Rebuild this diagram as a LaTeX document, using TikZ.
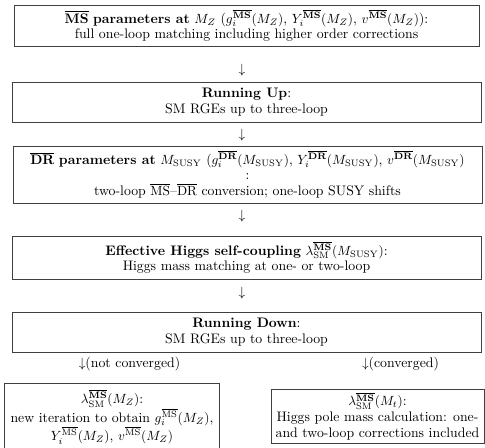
\documentclass[tikz,border=0pt]{standalone}
\usepackage{amsmath}
\newcommand{\pxu}{0.75pt}
\newcommand{\bMS}{\overline{\mathbf{MS}}}
\newcommand{\bDR}{\overline{\mathbf{DR}}}
\newcommand{\rMS}{\overline{\mathrm{MS}}}
\begin{document}
\begin{tikzpicture}[x=0.75pt,y=-0.75pt,
  box/.style={draw=black!75, line width=0.55pt, inner sep=0pt, rectangle},
  txt/.style={align=center, inner sep=0pt, font=\fontsize{10.35pt}{11.7pt}\selectfont},
  arr/.style={inner sep=0pt, font=\fontsize{10.35pt}{11.7pt}\selectfont}]
\useasboundingbox (0,0) rectangle (485,447);
\clip (0,0) rectangle (485,447);
% boxes
\node[box, minimum width=465*\pxu, minimum height=41*\pxu] (b1) at (246.5,25.5) {};
\node[box, minimum width=469*\pxu, minimum height=40*\pxu] (b2) at (246.5,102) {};
\node[box, minimum width=469*\pxu, minimum height=57*\pxu] (b3) at (247.5,174.5) {};
\node[box, minimum width=469*\pxu, minimum height=43*\pxu] (b4) at (246.5,257.5) {};
\node[box, minimum width=469*\pxu, minimum height=40*\pxu] (b5) at (246.5,332) {};
\node[box, minimum width=215*\pxu, minimum height=80*\pxu] (b6) at (111.5,423) {};
\node[box, minimum width=213*\pxu, minimum height=54*\pxu] (b7) at (377.5,416) {};
% texts
\node[txt] (t1) at (b1.center) {$\overline{\textbf{MS}}$ \textbf{parameters at} $M_Z$ ($g_i^{\bMS}(M_Z)$, $Y_i^{\bMS}(M_Z)$, $v^{\bMS}(M_Z)$):\\full one-loop matching including higher order corrections};
\node[txt] (t2) at (b2.center) {\textbf{Running Up}:\\SM RGEs up to three-loop};
\node[txt] (t3) at (b3.center) {$\overline{\textbf{DR}}$ \textbf{parameters at} $M_{\mathrm{SUSY}}$ ($g_i^{\bDR}(M_{\mathrm{SUSY}})$, $Y_i^{\bDR}(M_{\mathrm{SUSY}})$, $v^{\bDR}(M_{\mathrm{SUSY}})$\\:\\two-loop $\overline{\mathrm{MS}}$--$\overline{\mathrm{DR}}$ conversion; one-loop SUSY shifts};
\node[txt] (t4) at (b4.center) {\textbf{Effective Higgs self-coupling} $\lambda_{\mathrm{SM}}^{\bMS}(M_{\mathrm{SUSY}})$:\\Higgs mass matching at one- or two-loop};
\node[txt] (t5) at (b5.center) {\textbf{Running Down}:\\SM RGEs up to three-loop};
\node[txt] (t6) at (112,417) {$\lambda_{\mathrm{SM}}^{\bMS}(M_Z)$:\\new iteration to obtain $g_i^{\rMS}(M_Z)$,\\$Y_i^{\rMS}(M_Z)$, $v^{\rMS}(M_Z)$};
\node[txt] (t7) at (b7.center) {$\lambda_{\mathrm{SM}}^{\bMS}(M_t)$:\\Higgs pole mass calculation: one-\\and two-loop corrections included};
% arrows (glyphs)
\node[arr] (a1) at (242,70) {$\downarrow$};
\node[arr] (a2) at (242,135) {$\downarrow$};
\node[arr] (a3) at (242,216) {$\downarrow$};
\node[arr] (a4) at (242,293) {$\downarrow$};
\node[arr] (l1) at (129.5,364) {$\downarrow$(not converged)};
\node[arr] (l2) at (400.5,364) {$\downarrow$(converged)};
\end{tikzpicture}
\end{document}
